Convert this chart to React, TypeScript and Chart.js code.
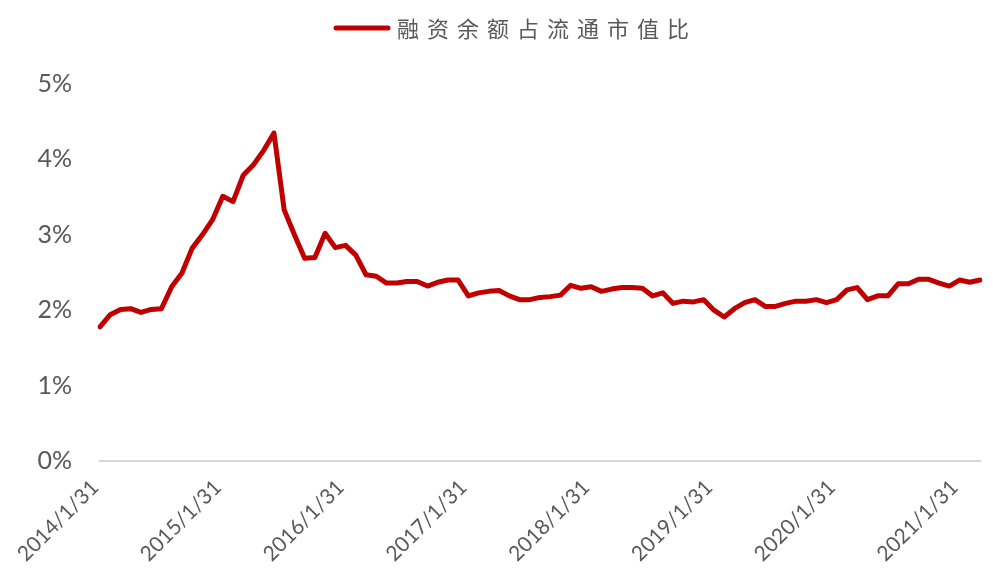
import React, { useEffect, useRef } from 'react';
import { Chart, registerables } from 'chart.js';

Chart.register(...registerables);

const seriesName = '融资余额占流通市值比';
const lineColor = '#C00000';
const textColor = '#595959';

// Monthly month-end dates, 2014/1/31 .. 2021/3/31
const firstYear = 2014;
const monthCount = 87;
const categories: string[] = [];
for (let i = 0; i < monthCount; i++) {
  const y = firstYear + Math.floor(i / 12);
  const m = (i % 12) + 1;
  const d = new Date(y, m, 0).getDate();
  categories.push(`${y}/${m}/${d}`);
}

// 融资余额占流通市值比 (%)
const marginRatio = [
  1.78, 1.94, 2.01, 2.02, 1.97, 2.01, 2.02, 2.31, 2.49, 2.82,
  3.00, 3.20, 3.51, 3.44, 3.79, 3.93, 4.12, 4.35, 3.33, 3.00,
  2.69, 2.70, 3.02, 2.83, 2.86, 2.73, 2.47, 2.45, 2.36, 2.36,
  2.38, 2.38, 2.32, 2.37, 2.40, 2.40, 2.19, 2.23, 2.25, 2.26,
  2.19, 2.14, 2.14, 2.17, 2.18, 2.20, 2.33, 2.29, 2.31, 2.25,
  2.28, 2.30, 2.30, 2.29, 2.19, 2.23, 2.09, 2.12, 2.11, 2.14,
  2.00, 1.91, 2.02, 2.10, 2.14, 2.05, 2.05, 2.09, 2.12, 2.12,
  2.14, 2.10, 2.14, 2.27, 2.30, 2.14, 2.19, 2.19, 2.35, 2.35,
  2.41, 2.41, 2.36, 2.32, 2.40, 2.37, 2.40,
];

const yMin = 0;
const yMax = 5;
const yStep = 1;
const labelEvery = 12;

const legendPlugin = {
  id: 'customLegend',
  afterDraw(chart: any) {
    const ctx = chart.ctx as CanvasRenderingContext2D;
    ctx.save();
    ctx.strokeStyle = lineColor;
    ctx.lineWidth = 5;
    ctx.lineCap = 'round';
    ctx.beginPath();
    ctx.moveTo(336, 28);
    ctx.lineTo(388, 28);
    ctx.stroke();
    ctx.font = '22px "Noto Sans CJK SC"';
    ctx.fillStyle = textColor;
    ctx.textAlign = 'left';
    ctx.textBaseline = 'middle';
    (ctx as any).letterSpacing = '8px';
    ctx.fillText(seriesName, 397, 29);
    ctx.restore();
  },
};

export default function App() {
  const canvasRef = useRef<HTMLCanvasElement | null>(null);

  useEffect(() => {
    document.body.style.margin = '0';
    const canvas = canvasRef.current;
    if (!canvas) return;
    const chart = new Chart(canvas, {
      type: 'line',
      data: {
        labels: categories,
        datasets: [
          {
            label: seriesName,
            data: marginRatio,
            borderColor: lineColor,
            backgroundColor: lineColor,
            borderWidth: 5,
            pointRadius: 0,
            tension: 0,
            borderJoinStyle: 'round',
            borderCapStyle: 'round',
          },
        ],
      },
      options: {
        animation: false,
        responsive: true,
        maintainAspectRatio: false,
        layout: { padding: { top: 84, right: 13, bottom: 0, left: 0 } },
        plugins: {
          legend: { display: false },
          tooltip: { enabled: false },
          title: { display: false },
        },
        scales: {
          x: {
            type: 'category',
            offset: false,
            grid: { display: false, drawTicks: false },
            border: { display: true, color: '#d9d9d9', width: 2 },
            ticks: {
              autoSkip: false,
              minRotation: 45,
              maxRotation: 45,
              padding: 14,
              labelOffset: -5,
              color: textColor,
              font: { family: 'Lato', size: 21 },
              callback: (_v: any, i: number) => (i % labelEvery === 0 ? categories[i] : ''),
            },
            afterFit: (scale: any) => {
              scale.height = 121;
              scale.paddingLeft = 0;
              scale.paddingRight = 0;
            },
          },
          y: {
            min: yMin,
            max: yMax,
            grid: { display: false, drawTicks: false },
            border: { display: false },
            ticks: {
              stepSize: yStep,
              padding: 28,
              color: textColor,
              font: { family: 'Lato', size: 25 },
              callback: (v: any) => `${v}%`,
            },
            afterFit: (scale: any) => {
              scale.width = 100;
            },
          },
        },
      },
      plugins: [legendPlugin],
    });
    return () => chart.destroy();
  }, []);

  return (
    <div style={{ position: 'relative', width: '993px', height: '582px' }}>
      <canvas ref={canvasRef} />
    </div>
  );
}
